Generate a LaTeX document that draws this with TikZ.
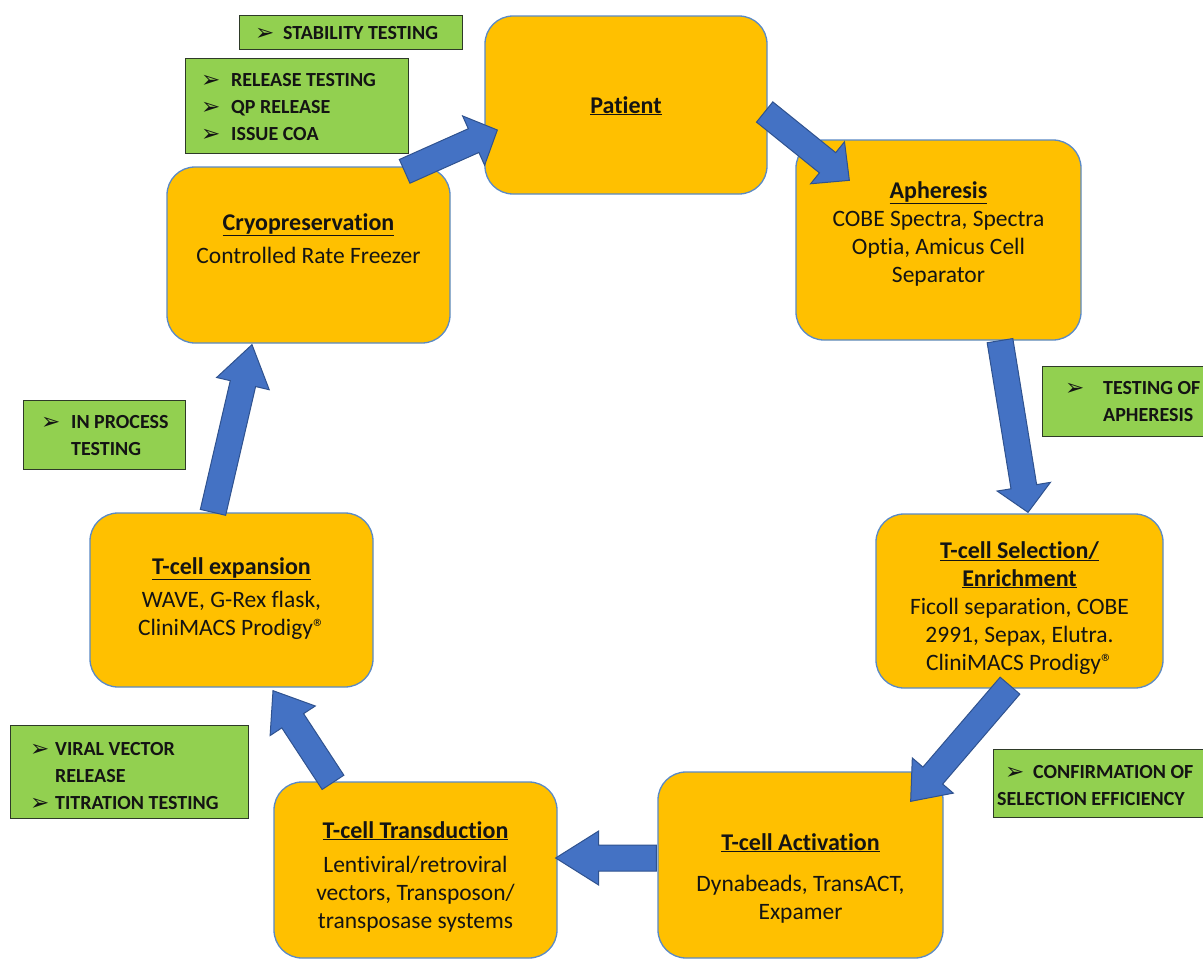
\documentclass[tikz,border=0pt]{standalone}
\usepackage{fontspec}
\setmainfont{Carlito}[RawFeature=-liga]
\newfontfamily\dvfont{DejaVu Sans}
\usetikzlibrary{calc}
\definecolor{orng}{HTML}{FFC000}
\definecolor{oedge}{HTML}{5A8AC6}
\definecolor{grn}{HTML}{92D050}
\definecolor{gedge}{HTML}{2E3A28}
\definecolor{blu}{HTML}{4472C4}
\definecolor{bedge}{HTML}{2F528F}
\definecolor{txt}{HTML}{141414}
\newcommand\bxttl[1]{\underline{\fontsize{24}{28}\selectfont\bfseries #1}}
\newcommand\arwb{\raisebox{-1pt}{\dvfont\fontsize{23}{23}\selectfont ➢}}
\newcommand\barrow[3][30]{%
  \coordinate (t) at (#2);
  \coordinate (e) at (#3);
  \coordinate (h) at ($(e)!#1pt!(t)$);
  \draw[blockarrow] ($(t)!13pt!90:(e)$) -- ($(h)!13pt!-90:(t)$) -- ($(h)!27pt!-90:(t)$) -- (e)
     -- ($(h)!27pt!90:(t)$) -- ($(h)!13pt!90:(t)$) -- ($(t)!13pt!-90:(e)$) -- cycle;
}
\tikzset{
  obox/.style={draw=oedge, line width=1.3pt, fill=orng, rounded corners=28pt, inner sep=0pt},
  gbox/.style={draw=gedge, line width=1.2pt, fill=grn, inner sep=0pt, anchor=north west},
  btxt/.style={inner sep=0pt, anchor=base, text=txt, font=\fontsize{23.5}{28}\selectfont},
  gtxt/.style={inner sep=0pt, anchor=base west, text=txt, font=\fontsize{20}{27}\selectfont\bfseries},
  blockarrow/.style={fill=blu, draw=bedge, line width=1pt, line join=miter}
}
\begin{document}
\begin{tikzpicture}[x=1pt,y=-1pt]
\useasboundingbox (0,0) rectangle (1203,961);
\clip (0,0) rectangle (1203,961);
\fill[white] (0,0) rectangle (1203,961);

% orange process boxes
\node[obox, minimum width=282pt, minimum height=178pt] (patient) at (626,105) {};
\node[obox, minimum width=285pt, minimum height=200pt] (aph) at (938.5,240) {};
\node[obox, minimum width=287pt, minimum height=174pt] (sel) at (1019.5,601) {};
\node[obox, minimum width=285pt, minimum height=186pt] (act) at (800.5,865) {};
\node[obox, minimum width=283pt, minimum height=176pt] (trans) at (415.5,870) {};
\node[obox, minimum width=283pt, minimum height=174pt] (exp) at (231.5,600) {};
\node[obox, minimum width=283pt, minimum height=176pt] (cryo) at (308.5,255) {};

% texts of boxes
\node[btxt] (patientt) at (626,113) {\bxttl{Patient}};
\node[btxt] (apht) at (938.5,198) {\begin{tabular}[t]{@{}c@{}}\bxttl{Apheresis}\\ COBE Spectra, Spectra\\ Optia, Amicus Cell\\ Separator\end{tabular}};
\node[btxt] (selt) at (1019.5,558) {\begin{tabular}[t]{@{}c@{}}\bxttl{T-cell Selection/}\\ \bxttl{Enrichment}\\ Ficoll separation, COBE\\ 2991, Sepax, Elutra.\\ CliniMACS Prodigy®\end{tabular}};
\node[btxt] (actt) at (800.5,850) {\begin{tabular}[t]{@{}c@{}}\bxttl{T-cell Activation}\\[13.5pt] Dynabeads, TransACT,\\ Expamer\end{tabular}};
\node[btxt] (transt) at (415.5,838) {\begin{tabular}[t]{@{}c@{}}\bxttl{T-cell Transduction}\\[6.5pt] Lentiviral/retroviral\\ vectors, Transposon/\\ transposase systems\end{tabular}};
\node[btxt] (expt) at (231.5,574) {\begin{tabular}[t]{@{}c@{}}\bxttl{T-cell expansion}\\[5.5pt] WAVE, G-Rex flask,\\ CliniMACS Prodigy®\end{tabular}};
\node[btxt] (cryot) at (308.5,230) {\begin{tabular}[t]{@{}c@{}}\bxttl{Cryopreservation}\\[5.5pt] Controlled Rate Freezer\end{tabular}};

% green testing boxes
\node[gbox, minimum width=223pt, minimum height=34pt] (g1) at (239,15) {};
\node[gbox, minimum width=223pt, minimum height=95pt] (g2) at (185,58) {};
\node[gbox, minimum width=175pt, minimum height=70pt] (g3) at (1042,366) {};
\node[gbox, minimum width=162pt, minimum height=69pt] (g4) at (23,400) {};
\node[gbox, minimum width=238pt, minimum height=93pt] (g5) at (10,725) {};
\node[gbox, minimum width=225pt, minimum height=68pt] (g6) at (993,749) {};

\node[gtxt] (g1t) at (255,39.5) {\begin{tabular}[t]{@{}l@{}l@{}}\makebox[28pt][l]{\arwb}&STABILITY TESTING\end{tabular}};
\node[gtxt] (g2t) at (201,86.5) {\begin{tabular}[t]{@{}l@{}l@{}}\makebox[30pt][l]{\arwb}&RELEASE TESTING\\ \arwb&QP RELEASE\\ \arwb&ISSUE COA\end{tabular}};
\node[gtxt] (g3t) at (1065,394.5) {\begin{tabular}[t]{@{}l@{}l@{}}\makebox[38pt][l]{\arwb}&TESTING OF\\ &APHERESIS\end{tabular}};
\node[gtxt] (g4t) at (41,428.5) {\begin{tabular}[t]{@{}l@{}l@{}}\makebox[30pt][l]{\arwb}&IN PROCESS\\ &TESTING\end{tabular}};
\node[gtxt] (g5t) at (30,755.5) {\begin{tabular}[t]{@{}l@{}l@{}}\makebox[25pt][l]{\arwb}&VIRAL VECTOR\\ &RELEASE\\ \arwb&TITRATION TESTING\end{tabular}};
\node[gtxt] (g6t) at (1005,778.5) {\begin{tabular}[t]{@{}l@{}l@{}}\makebox[28pt][l]{\arwb}&CONFIRMATION OF\\ \multicolumn{2}{@{}l@{}}{\hspace{-8pt}SELECTION EFFICIENCY}\end{tabular}};

% block arrows
\barrow[26]{$(cryo.north east)+(-46,5)$}{$(patient.west)+(13,25)$}
\barrow[28]{$(patient.east)+(-3,7)$}{$(aph.north west)+(54,41)$}
\barrow[26]{$(aph.south)+(61.5,0)$}{$(sel.north)+(8.5,-1)$}
\barrow[34]{$(sel.south)+(-9.5,-3)$}{$(act.north east)+(-33,30)$}
\barrow[43]{$(act.west)+(-1,-7)$}{$(trans.east)+(-2,-12)$}
\barrow[36]{$(trans.north)+(-82.5,1)$}{$(exp.south)+(41.5,3)$}
\barrow[40]{$(exp.north)+(-18.5,0)$}{$(cryo.south)+(-56.5,1)$}
\end{tikzpicture}
\end{document}
